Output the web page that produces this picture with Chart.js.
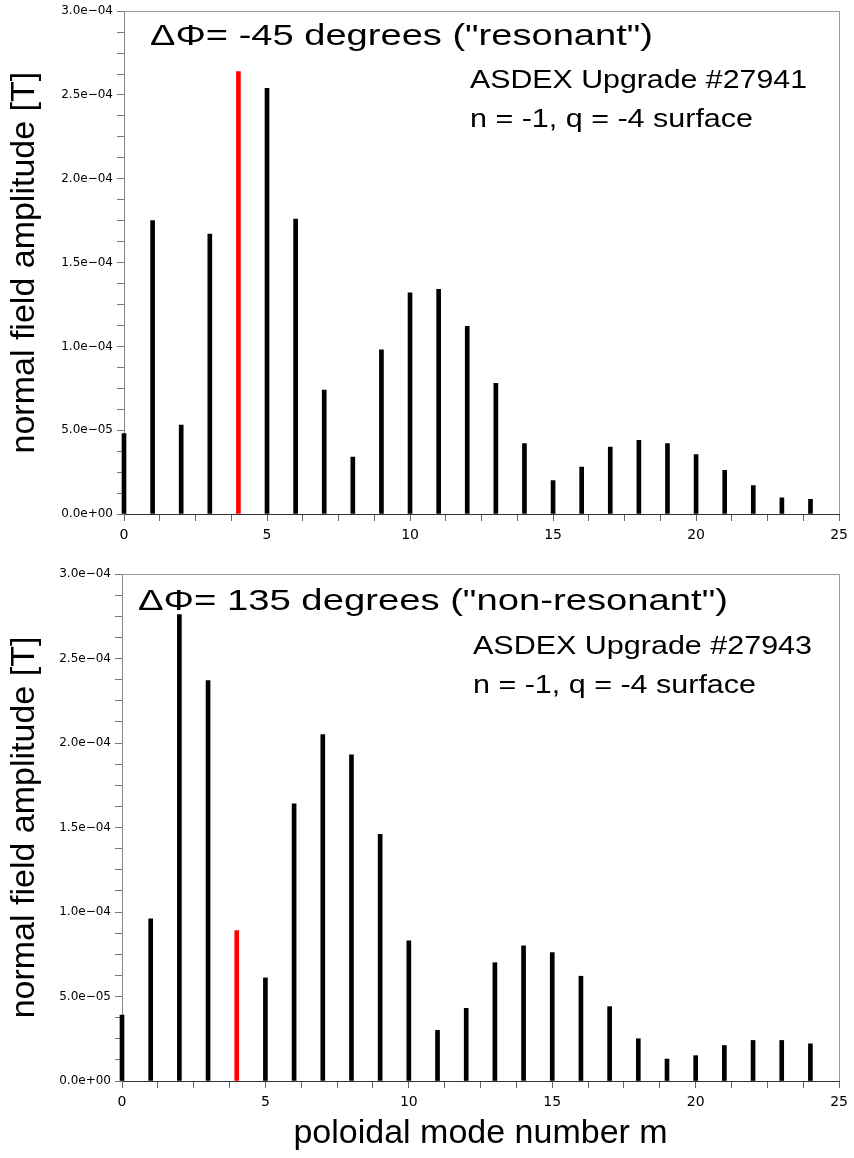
<!DOCTYPE html>
<html>
<head>
<meta charset="utf-8">
<script src="https://cdn.jsdelivr.net/npm/chart.js@4.4.1/dist/chart.umd.min.js"></script>
<style>
  html, body { margin: 0; padding: 0; background: #fff; }
  body { width: 854px; height: 1158px; position: relative; overflow: hidden; }
  canvas { position: absolute; left: 0; }
  #topChart { top: 0; }
  #bottomChart { top: 560px; }
</style>
</head>
<body>
<canvas id="topChart" width="854" height="560"></canvas>
<canvas id="bottomChart" width="854" height="598"></canvas>
<script>
// poloidal mode numbers m
const modes = [0, 1, 2, 3, 4, 5, 6, 7, 8, 9, 10, 11, 12, 13, 14, 15, 16, 17, 18, 19, 20, 21, 22, 23, 24];
// the resonant mode (q = -4 surface) is drawn in red
const resonantMode = 4;

// shot #27941, dPhi = -45 deg
const resonantAmp = [4.8e-5, 1.75e-4, 5.3e-5, 1.67e-4, 2.64e-4, 2.54e-4, 1.76e-4, 7.4e-5, 3.4e-5, 9.8e-5,
  1.32e-4, 1.34e-4, 1.12e-4, 7.8e-5, 4.2e-5, 2.0e-5, 2.8e-5, 4.0e-5, 4.4e-5, 4.2e-5,
  3.55e-5, 2.6e-5, 1.7e-5, 9.6e-6, 8.7e-6];
// shot #27943, dPhi = 135 deg
const nonResonantAmp = [3.9e-5, 9.6e-5, 2.76e-4, 2.37e-4, 8.9e-5, 6.1e-5, 1.64e-4, 2.05e-4, 1.93e-4, 1.46e-4,
  8.3e-5, 3.0e-5, 4.3e-5, 7.0e-5, 8.0e-5, 7.6e-5, 6.2e-5, 4.4e-5, 2.5e-5, 1.3e-5,
  1.5e-5, 2.1e-5, 2.4e-5, 2.4e-5, 2.2e-5];

const xTickLabels = ['0', '5', '10', '15', '20', '25'];
const yTickLabels = ['0.0e+00', '5.0e\u221205', '1.0e\u221204', '1.5e\u221204', '2.0e\u221204', '2.5e\u221204', '3.0e\u221204'];

const SANS = '"Liberation Sans", Arial, Helvetica, sans-serif';
const TICKFONT = '"DejaVu Sans", sans-serif';

Chart.defaults.color = '#000';
Chart.defaults.font.family = SANS;

// frame on top and right side of the plot area
const framePlugin = {
  id: 'frame',
  afterDraw(chart) {
    const { ctx, chartArea: a } = chart;
    ctx.save();
    ctx.strokeStyle = '#999';
    ctx.lineWidth = 1;
    ctx.beginPath();
    ctx.moveTo(Math.round(a.left), Math.round(a.top) + 0.5);
    ctx.lineTo(Math.round(a.right) + 0.5, Math.round(a.top) + 0.5);
    ctx.lineTo(Math.round(a.right) + 0.5, Math.round(a.bottom));
    ctx.stroke();
    ctx.restore();
  }
};

// text inside the plot (stretched wide like the original)
function notesPlugin(notes) {
  return {
    id: 'notes',
    afterDraw(chart) {
      const ctx = chart.ctx;
      ctx.save();
      ctx.fillStyle = '#000';
      ctx.textBaseline = 'alphabetic';
      notes.forEach(n => {
        ctx.font = n.size + 'px ' + SANS;
        const w = ctx.measureText(n.text).width;
        ctx.save();
        ctx.translate(n.x, n.y);
        ctx.scale(n.width / w, 1);
        ctx.fillText(n.text, 0, 0);
        ctx.restore();
      });
      ctx.restore();
    }
  };
}

function makeChart(id, values, notes, lay) {
  const colors = modes.map(m => m === resonantMode ? '#ff0000' : '#000000');
  return new Chart(document.getElementById(id), {
    type: 'bar',
    data: {
      datasets: [{
        data: modes.map((m, i) => ({ x: m, y: values[i] })),
        backgroundColor: colors,
        borderWidth: 0,
        barThickness: 4,
        clip: 6
      }]
    },
    options: {
      responsive: false,
      animation: false,
      events: [],
      layout: { padding: lay.padding },
      plugins: { legend: { display: false }, tooltip: { enabled: false } },
      scales: {
        x: {
          type: 'linear',
          min: 0,
          max: 25,
          offset: false,
          grid: { offset: false, drawOnChartArea: false, tickLength: 7, color: '#666' },
          border: { display: true, color: '#333' },
          ticks: {
            stepSize: 1.25,
            autoSkip: false,
            maxRotation: 0,
            padding: 6,
            font: { family: TICKFONT, size: 14 },
            callback: (v, i) => i % 4 === 0 ? xTickLabels[i / 4] : ''
          },
          title: {
            display: lay.xTitle,
            text: 'poloidal mode number m',
            font: { family: SANS, size: 34 },
            padding: { top: 0, bottom: 4 }
          },
          afterFit: s => { s.height = lay.xHeight; }
        },
        y: {
          type: 'linear',
          min: 0,
          max: 3e-4,
          grid: { drawOnChartArea: false, tickLength: 7, color: '#777' },
          border: { display: true, color: '#888' },
          ticks: {
            stepSize: 1.25e-5,
            autoSkip: false,
            padding: 4,
            font: { family: TICKFONT, size: 12 },
            callback: (v, i) => i % 4 === 0 ? yTickLabels[i / 4] : ''
          },
          title: {
            display: true,
            text: 'normal field amplitude [T]',
            font: { family: SANS, size: 34 },
            padding: { top: 4, bottom: 0 }
          },
          afterFit: s => { s.width = lay.yWidth; }
        }
      }
    },
    plugins: [framePlugin, notesPlugin(notes)]
  });
}

makeChart('topChart', resonantAmp, [
  { text: '\u0394\u03A6= -45 degrees ("resonant")', x: 150, y: 45, size: 30, width: 503 },
  { text: 'ASDEX Upgrade #27941', x: 470, y: 88, size: 25, width: 337 },
  { text: 'n = -1, q = -4 surface', x: 470, y: 127, size: 25, width: 283 }
], { padding: { top: 7, right: 11, bottom: 0, left: 0 }, yWidth: 124, xHeight: 46, xTitle: false });

makeChart('bottomChart', nonResonantAmp, [
  { text: '\u0394\u03A6= 135 degrees ("non-resonant")', x: 138, y: 50, size: 30, width: 590 },
  { text: 'ASDEX Upgrade #27943', x: 473, y: 94, size: 25, width: 339 },
  { text: 'n = -1, q = -4 surface', x: 473, y: 133, size: 25, width: 283 }
], { padding: { top: 14, right: 13, bottom: 0, left: 0 }, yWidth: 122, xHeight: 77, xTitle: true });
</script>
</body>
</html>
